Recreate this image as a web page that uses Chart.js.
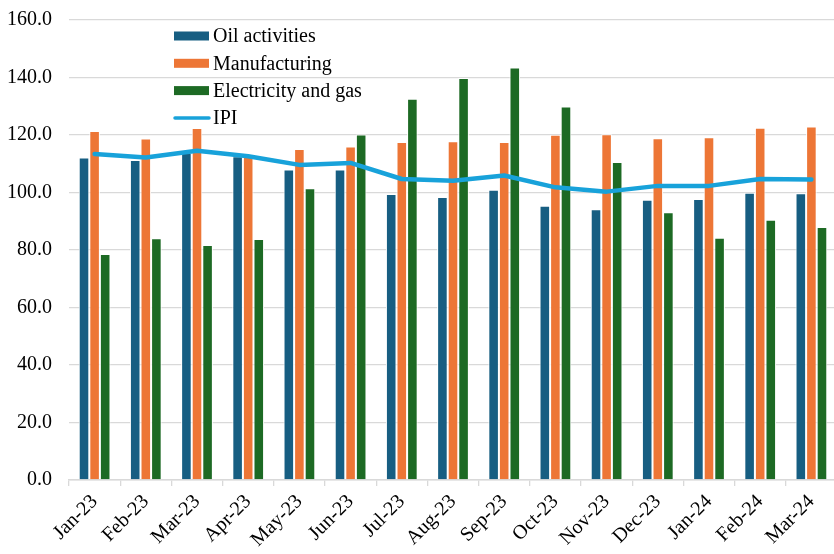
<!DOCTYPE html>
<html>
<head>
<meta charset="utf-8">
<script src="https://cdn.jsdelivr.net/npm/chart.js@4.4.1/dist/chart.umd.min.js"></script>
<style>
  html, body { margin: 0; padding: 0; background: #ffffff; overflow: hidden; }
  #wrap { position: absolute; left: 0; top: 0; width: 834px; height: 554px; overflow: hidden; }
  #chart { display: block; position: absolute; left: 0; top: -9px; }
</style>
</head>
<body>
<div id="wrap"><canvas id="chart" width="840" height="569"></canvas></div>
<script>
// Monthly index values by activity
const months = ['Jan-23', 'Feb-23', 'Mar-23', 'Apr-23', 'May-23', 'Jun-23', 'Jul-23', 'Aug-23',
                'Sep-23', 'Oct-23', 'Nov-23', 'Dec-23', 'Jan-24', 'Feb-24', 'Mar-24'];
const oilActivities = [112.2, 111.3, 113.7, 112.6, 108.0, 108.0, 99.5, 98.4, 101.0, 95.4, 94.2, 97.5, 97.7, 99.9, 99.7];
const manufacturing = [121.4, 118.8, 122.4, 113.4, 115.1, 116.0, 117.6, 117.8, 117.6, 120.1, 120.3, 118.9, 119.2, 122.5, 123.0];
const electricityGas = [78.6, 84.1, 81.7, 83.8, 101.5, 120.2, 132.6, 139.8, 143.5, 129.9, 110.6, 93.1, 84.3, 90.5, 88.0];
const ipi = [113.4, 112.2, 114.5, 112.6, 109.6, 110.3, 104.7, 104.1, 105.9, 101.8, 100.3, 102.3, 102.3, 104.7, 104.5];

const yTicks = { min: 0, max: 160, step: 20 };

const FONT = 'Liberation Serif, "Times New Roman", serif';
const GRID = '#d9d9d9';

// Vertical legend drawn inside the plot area
const insideLegend = {
  id: 'insideLegend',
  afterDatasetsDraw(chart) {
    const ctx = chart.ctx;
    const left = chart.chartArea.left + 105;
    const top = chart.chartArea.top + 16;
    const rowH = 27.3;
    ctx.save();
    ctx.font = '20px ' + FONT;
    ctx.textBaseline = 'middle';
    ctx.textAlign = 'left';
    chart.data.datasets.forEach((ds, i) => {
      const y = top + i * rowH;
      if (ds.type === 'line') {
        ctx.strokeStyle = ds.borderColor;
        ctx.lineWidth = 3.5;
        ctx.lineCap = 'round';
        ctx.beginPath();
        ctx.moveTo(left + 1, y);
        ctx.lineTo(left + 35, y);
        ctx.stroke();
      } else {
        ctx.fillStyle = ds.backgroundColor;
        ctx.fillRect(left, y - 4.5, 35, 9);
      }
      ctx.fillStyle = '#000000';
      ctx.fillText(ds.label, left + 39, y + 1);
    });
    ctx.restore();
  }
};

const barStyle = {
  type: 'bar',
  borderColor: '#ffffff',
  borderWidth: 1,
  barPercentage: 1,
  categoryPercentage: 0.62,
  order: 1
};

new Chart(document.getElementById('chart'), {
  data: {
    labels: months,
    datasets: [
      Object.assign({ label: 'Oil activities', data: oilActivities, backgroundColor: '#175e82' }, barStyle),
      Object.assign({ label: 'Manufacturing', data: manufacturing, backgroundColor: '#ed7636' }, barStyle),
      Object.assign({ label: 'Electricity and gas', data: electricityGas, backgroundColor: '#1d6a24' }, barStyle),
      {
        type: 'line',
        label: 'IPI',
        data: ipi,
        borderColor: '#18a2da',
        backgroundColor: '#18a2da',
        borderWidth: 4.5,
        borderJoinStyle: 'round',
        borderCapStyle: 'round',
        pointRadius: 0,
        tension: 0,
        order: 0
      }
    ]
  },
  options: {
    responsive: false,
    animation: false,
    layout: { padding: { top: 9, right: 3, left: 0, bottom: 0 } },
    plugins: {
      legend: { display: false },
      tooltip: { enabled: false },
      title: { display: false }
    },
    scales: {
      x: {
        offset: true,
        grid: { offset: true, drawOnChartArea: false, drawTicks: true, tickLength: 6, color: GRID, lineWidth: 1.3 },
        border: { display: true, color: GRID, width: 1.5 },
        ticks: {
          autoSkip: false,
          minRotation: 45,
          maxRotation: 45,
          padding: 4,
          color: '#000000',
          font: { family: FONT, size: 20 }
        },
        afterFit(scale) { scale.height = 80; }
      },
      y: {
        min: yTicks.min,
        max: yTicks.max,
        ticks: {
          stepSize: yTicks.step,
          padding: 17,
          color: '#000000',
          font: { family: FONT, size: 20 },
          callback: v => Number(v).toFixed(1)
        },
        grid: { color: GRID, lineWidth: 1.3, drawTicks: false },
        border: { display: false },
        afterFit(scale) { scale.width = 69; }
      }
    }
  },
  plugins: [insideLegend]
});
</script>
</body>
</html>
